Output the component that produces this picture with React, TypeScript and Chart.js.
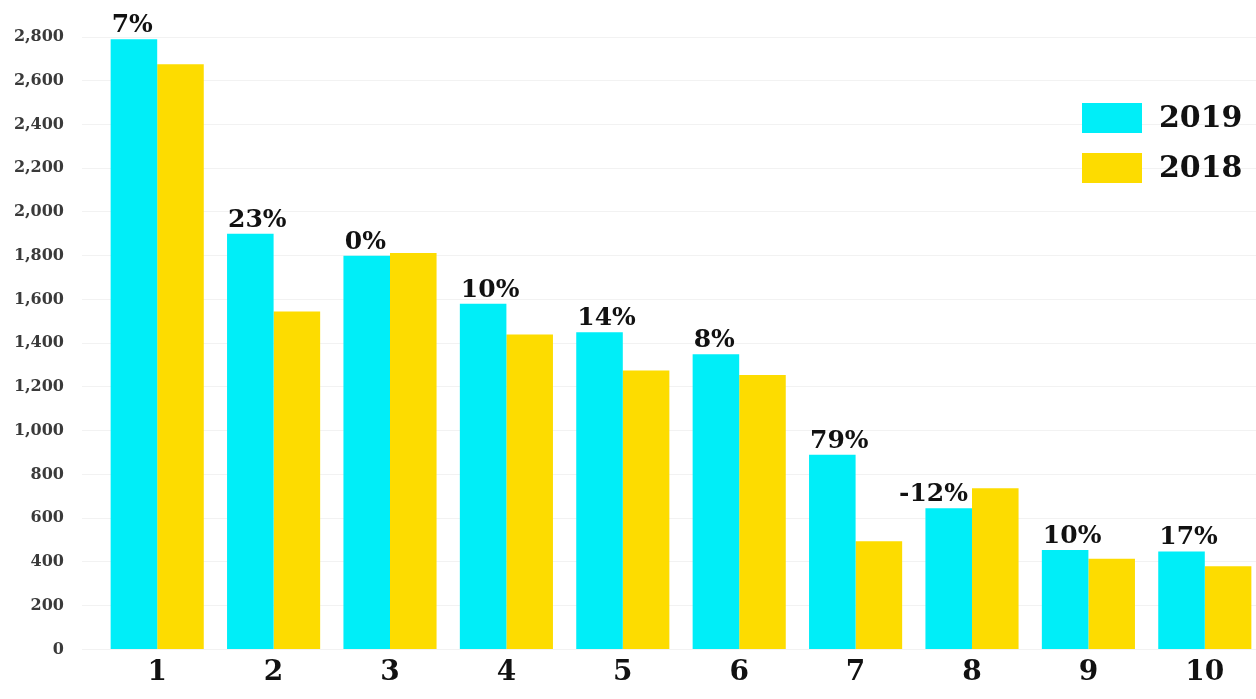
import React, { useEffect, useRef } from "react";
import { Chart, registerables } from "chart.js";

Chart.register(...registerables);

const categories = ["1", "2", "3", "4", "5", "6", "7", "8", "9", "10"];
const seriesLabels = ["2019", "2018"];
const values2019 = [2790, 1900, 1800, 1580, 1450, 1350, 890, 645, 455, 448];
const values2018 = [2675, 1545, 1812, 1440, 1275, 1255, 495, 737, 415, 380];
const changeLabels = ["7%", "23%", "0%", "10%", "14%", "8%", "79%", "-12%", "10%", "17%"];
const colors = ["#00EEF8", "#FDDC00"];
const yMax = 2800;
const yStep = 200;

const SERIF = '"DejaVu Serif", "Liberation Serif", serif';

const changeLabelPlugin = {
  id: "changeLabels",
  afterDatasetsDraw(chart: any) {
    const ctx = chart.ctx;
    const meta = chart.getDatasetMeta(0);
    ctx.save();
    ctx.font = `bold 25px ${SERIF}`;
    ctx.fillStyle = "#111";
    ctx.textBaseline = "alphabetic";
    meta.data.forEach((bar: any, i: number) => {
      const p = bar.getProps(["x", "y", "width"], true);
      let x: number;
      if (values2018[i] > values2019[i]) {
        ctx.textAlign = "right";
        x = p.x + p.width / 2 - 4;
      } else {
        ctx.textAlign = "left";
        x = p.x - p.width / 2 + 1;
      }
      ctx.fillText(changeLabels[i], x, p.y - 7);
    });
    ctx.restore();
  },
};

const legendPlugin = {
  id: "cornerLegend",
  afterDraw(chart: any) {
    const ctx = chart.ctx;
    ctx.save();
    ctx.font = `bold 30px ${SERIF}`;
    ctx.textBaseline = "middle";
    ctx.textAlign = "left";
    chart.data.datasets.forEach((ds: any, i: number) => {
      const top = 103 + i * 50;
      ctx.fillStyle = ds.backgroundColor;
      ctx.fillRect(1082, top, 60, 30);
      ctx.fillStyle = "#111";
      ctx.fillText(ds.label, 1159, top + 16);
    });
    ctx.restore();
  },
};

export default function App() {
  const canvasRef = useRef<HTMLCanvasElement | null>(null);

  useEffect(() => {
    document.body.style.margin = "0";
    document.body.style.overflow = "hidden";
    const canvas = canvasRef.current;
    if (!canvas) return;
    const chart = new Chart(canvas, {
      type: "bar",
      data: {
        labels: categories,
        datasets: [
          {
            label: seriesLabels[0],
            data: values2019,
            backgroundColor: colors[0],
            categoryPercentage: 0.8,
            barPercentage: 1.0,
          },
          {
            label: seriesLabels[1],
            data: values2018,
            backgroundColor: colors[1],
            categoryPercentage: 0.8,
            barPercentage: 1.0,
          },
        ],
      },
      options: {
        animation: false,
        responsive: true,
        maintainAspectRatio: false,
        layout: { padding: { top: 37, right: 1, bottom: 2, left: 0 } },
        plugins: {
          legend: { display: false },
          tooltip: { enabled: false },
        },
        scales: {
          x: {
            grid: { display: false, drawTicks: false },
            border: { display: false },
            ticks: {
              color: "#111",
              font: { family: SERIF, size: 28, weight: "bold" },
              padding: 7,
              maxRotation: 0,
            },
          },
          y: {
            min: 0,
            max: yMax,
            afterFit: (s: any) => {
              s.width = 99;
            },
            grid: {
              color: "rgba(0,0,0,0.05)",
              tickLength: 17,
              drawTicks: true,
            },
            border: { display: false },
            ticks: {
              stepSize: yStep,
              color: "#3a3a3a",
              padding: 18,
              font: { family: SERIF, size: 16, weight: "bold" },
              callback: (v: any) => Number(v).toLocaleString("en-US"),
            },
          },
        },
      },
      plugins: [changeLabelPlugin, legendPlugin],
    });
    return () => chart.destroy();
  }, []);

  return (
    <div style={{ width: 1256, height: 699, overflow: "hidden", position: "relative", background: "#fff" }}>
      <div style={{ width: 1264, height: 699, position: "relative" }}>
        <canvas ref={canvasRef} />
      </div>
    </div>
  );
}
